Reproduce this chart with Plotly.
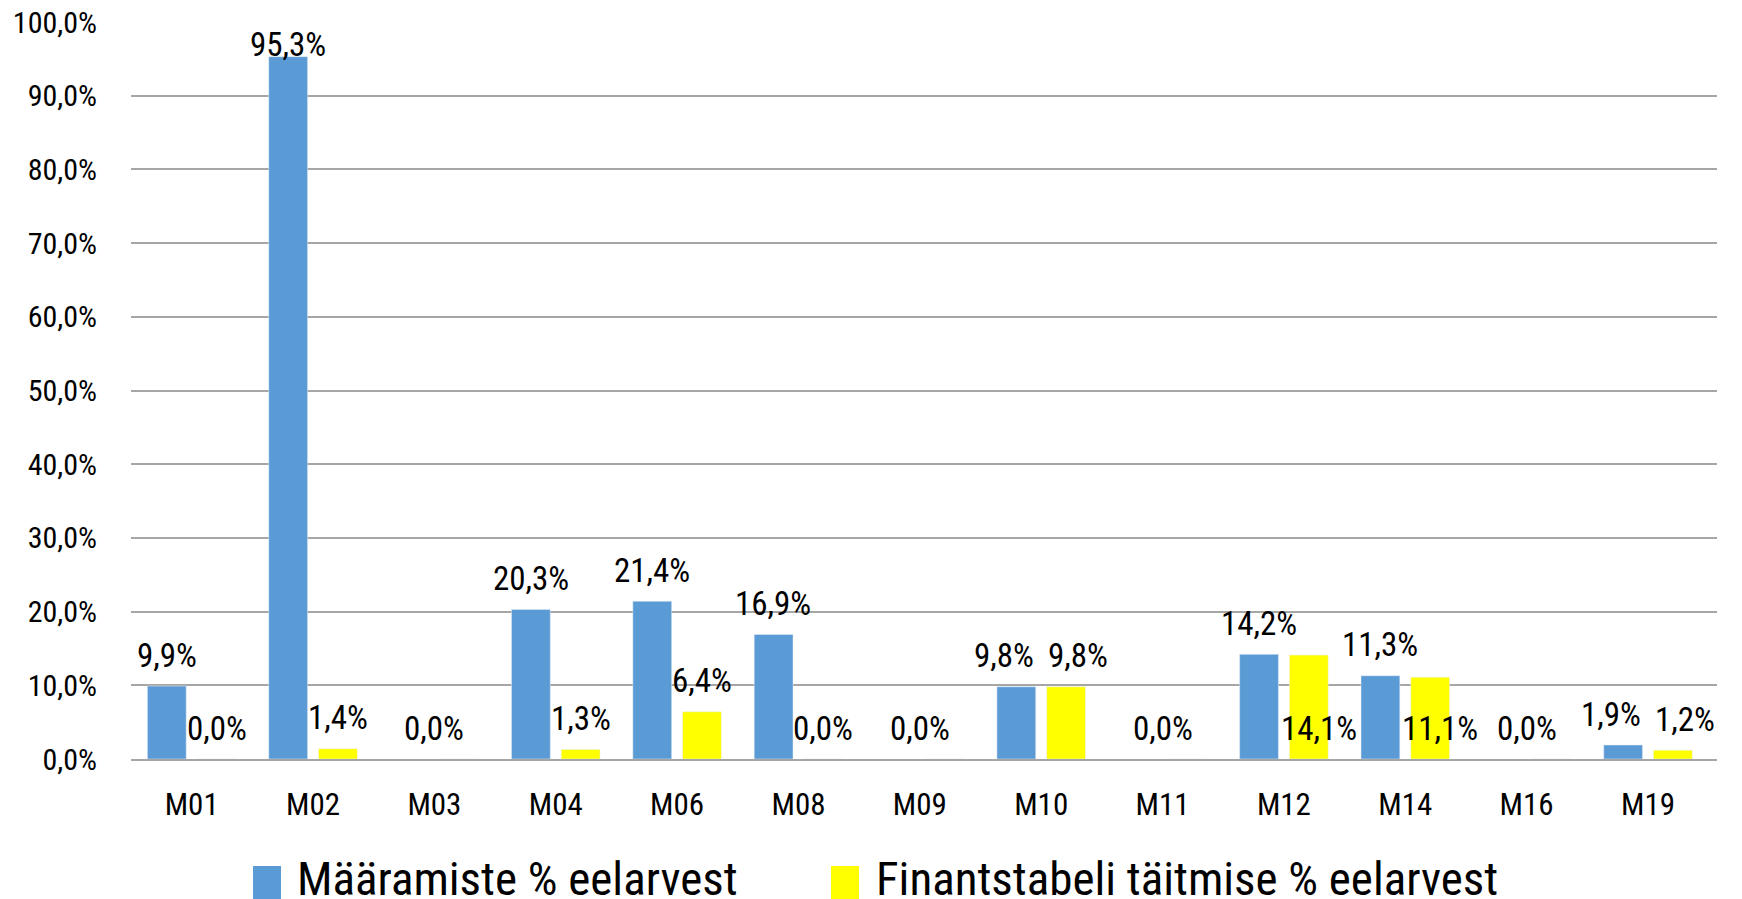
import plotly.graph_objects as go

categories = ["M01", "M02", "M03", "M04", "M06", "M08", "M09", "M10", "M11", "M12", "M14", "M16", "M19"]
maaramiste = [9.9, 95.3, None, 20.3, 21.4, 16.9, None, 9.8, None, 14.2, 11.3, None, 1.9]
finantstabel = [0.0, 1.4, 0.0, 1.3, 6.4, 0.0, 0.0, 9.8, 0.0, 14.1, 11.1, 0.0, 1.2]
yellow_label_at_base = ["M12", "M14"]
y_ticks = [0, 10, 20, 30, 40, 50, 60, 70, 80, 90, 100]

series_names = ["Määramiste % eelarvest", "Finantstabeli täitmise % eelarvest"]
BLUE = "#5B9BD5"
YELLOW = "#FFFF00"
GRID = "#A6A6A6"
FONT = "Roboto Condensed, Liberation Sans Narrow, DejaVu Sans Condensed, Roboto, sans-serif"
LABEL_OFFSET = 4.2   # data units between bar top and label centre
LABEL_MAX = 96.9     # labels kept inside the plot area
BAR_SHIFT = 25       # px offset of each bar centre from category centre
PAIR_SPREAD = 12     # extra px separation for side-by-side labels at the same height
BASE_SHIFT = 10      # px shift for labels placed at the bar base


def fmt(v):
    return f"{v:.1f}".replace(".", ",") + "%"


fig = go.Figure()
fig.add_trace(go.Bar(x=categories, y=maaramiste, marker_color=BLUE, name=series_names[0], showlegend=False))
fig.add_trace(go.Bar(x=categories, y=finantstabel, marker_color=YELLOW, name=series_names[1], showlegend=False))

annotations = []
for c, b, yv in zip(categories, maaramiste, finantstabel):
    at_base = c in yellow_label_at_base
    close_pair = (b is not None and yv is not None and not at_base and yv > 0 and abs(b - yv) < 1.5)
    spread = PAIR_SPREAD if close_pair else 0
    if b is not None:
        annotations.append(dict(x=c, y=min(b + LABEL_OFFSET, LABEL_MAX), xref="x", yref="y", text=fmt(b),
                                showarrow=False, xshift=-BAR_SHIFT - spread, yanchor="middle",
                                font=dict(size=33)))
    if yv is not None:
        base = 0 if at_base else yv
        if b is None:
            xs = 0
        else:
            xs = BAR_SHIFT + spread + (BASE_SHIFT if at_base else 0)
        annotations.append(dict(x=c, y=min(base + LABEL_OFFSET, LABEL_MAX), xref="x", yref="y", text=fmt(yv),
                                showarrow=False, xshift=xs, yanchor="middle",
                                font=dict(size=33)))

W, H = 1742, 899
L, R, T, B = 131, 25, 22, 140
pw, ph = W - L - R, H - T - B


def px_x(px):
    return (px - L) / pw


def px_y(py):
    return (H - B - py) / ph


shapes = []
legend_items = [(253, 295, BLUE, series_names[0]), (831, 874, YELLOW, series_names[1])]
for sx, tx, col, name in legend_items:
    shapes.append(dict(type="rect", xref="paper", yref="paper", x0=px_x(sx), x1=px_x(sx + 28),
                       y0=px_y(866), y1=px_y(900), fillcolor=col, line=dict(width=0)))
    annotations.append(dict(x=px_x(tx), y=px_y(878), xref="paper", yref="paper", text=name,
                            showarrow=False, xanchor="left", yanchor="middle",
                            font=dict(size=47, color="#000000", family=FONT)))

fig.update_layout(
    width=W, height=H,
    margin=dict(l=L, r=R, t=T, b=B),
    paper_bgcolor="white", plot_bgcolor="white",
    barmode="group", bargap=0.18, bargroupgap=0.22,
    font=dict(family=FONT, size=31, color="#000000"),
    showlegend=False,
    annotations=annotations,
    shapes=shapes,
    xaxis=dict(showgrid=False, showline=True, linecolor=GRID, linewidth=2, ticks="",
               ticklabelstandoff=17, tickfont=dict(size=31), automargin=False),
    yaxis=dict(range=[0, 100], tickvals=y_ticks, ticktext=[fmt(v) for v in y_ticks],
               showgrid=True, gridcolor=GRID, gridwidth=1.5, zeroline=False,
               showline=False, ticks="", ticklabelstandoff=33, tickfont=dict(size=30),
               automargin=False),
)

fig.write_html("out.html", config={"displayModeBar": False},
               post_script="document.body.style.margin='0';document.body.style.overflow='hidden';")
